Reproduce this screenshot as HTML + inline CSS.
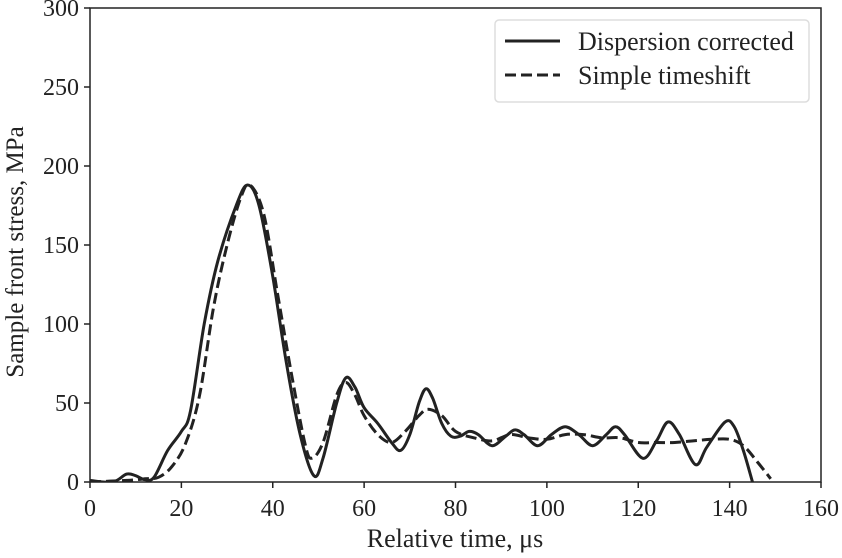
<!DOCTYPE html>
<html><head><meta charset="utf-8"><style>body{margin:0;background:#fff}svg{display:block}text{font-family:"Liberation Serif",serif;fill:#222}</style></head>
<body>
<svg id="chart" width="842" height="558" xmlns="http://www.w3.org/2000/svg"></svg>
<script>
const xTicks=[0,20,40,60,80,100,120,140,160];
const yTicks=[0,50,100,150,200,250,300];
const solidT=[0,5,8,10,12,14,17,20,22,25,28,32,34.5,37,40,43,46,49,51,54,56,58,60,63,66,68,70,72,73.5,75,77,79,81,83,85,88,91,93,95,98,101,104,107,110,113,115,117,121,124,126.5,129,132.5,135,139,141,143,145];
const solidV=[1,0,5,4,1.5,3,20,32,45,100,140,175,188,175,130,75,30,4,15,50,66,60,47,37,25,20,30,50,59,53,37,29,29,32,30,23,29,33,30,23,30,35,30,23,30,35,30,15,26,38,30,11,22,38,35,20,0];
const dashT=[0,8,12,15,18,21,24,27,30,33,35,38,41,44,47,48.5,51,54,56,58,60,63,66,69,72,74,77,80,84,88,92,96,100,104,108,112,116,120,124,128,132,136,140,143,146,149];
const dashV=[0,1,2,3,10,25,55,110,150,180,188,170,120,70,25,15,25,55,63,55,42,30,25,32,42,46,42,32,28,26,30,28,27,30,30,28,28,25,25,25,26,27,27,23,13,2];
const X0=90,X1=821,Y0=482,Y1=8;
const sx=v=>X0+(v-0)/160*(X1-X0), sy=v=>Y0-(v/300)*(Y0-Y1);
const svg=document.getElementById('chart');const NS='http://www.w3.org/2000/svg';
function mk(t,a,p){const e=document.createElementNS(NS,t);for(const k in a)e.setAttribute(k,a[k]);(p||svg).appendChild(e);return e;}
const frame=mk('rect',{x:X0,y:Y1,width:X1-X0,height:Y0-Y1,fill:'none',stroke:'#222','stroke-width':1.5});

xTicks.forEach(v=>{const l=mk('line',{x1:sx(v),x2:sx(v),y1:Y0,y2:Y0+6,stroke:'#222','stroke-width':1.5});

const t=mk('text',{x:sx(v),y:516,'text-anchor':'middle','font-size':24});t.textContent=v;
});
yTicks.forEach(v=>{const l=mk('line',{x1:X0-6,x2:X0,y1:sy(v),y2:sy(v),stroke:'#222','stroke-width':1.5});

const t=mk('text',{x:X0-11,y:sy(v)+8,'text-anchor':'end','font-size':24});t.textContent=v;
});
const xt=mk('text',{x:455,y:547,'text-anchor':'middle','font-size':26});xt.textContent='Relative time, μs';

const yt=mk('text',{transform:'translate(23,252) rotate(-90)','text-anchor':'middle','font-size':25});yt.textContent='Sample front stress, MPa';

function path(T,V){const P=T.map((t,i)=>[sx(t),sy(V[i])]);let d='M'+P[0][0].toFixed(1)+','+P[0][1].toFixed(1);
for(let i=0;i<P.length-1;i++){const p0=P[Math.max(0,i-1)],p1=P[i],p2=P[i+1],p3=P[Math.min(P.length-1,i+2)];
const c1=[p1[0]+(p2[0]-p0[0])/6,p1[1]+(p2[1]-p0[1])/6],c2=[p2[0]-(p3[0]-p1[0])/6,p2[1]-(p3[1]-p1[1])/6];
d+='C'+c1.map(v=>v.toFixed(1))+' '+c2.map(v=>v.toFixed(1))+' '+p2.map(v=>v.toFixed(1));}return d;}
const clip=mk('clipPath',{id:'c'});mk('rect',{x:X0,y:Y1,width:X1-X0,height:Y0-Y1},clip);
const d=mk('path',{d:path(dashT,dashV),fill:'none',stroke:'#222','stroke-width':3,'stroke-dasharray':'11,5','clip-path':'url(#c)','stroke-linejoin':'round'});

const s=mk('path',{d:path(solidT,solidV),fill:'none',stroke:'#222','stroke-width':3,'clip-path':'url(#c)','stroke-linejoin':'round'});

const g=mk('g',{});
mk('rect',{x:495,y:20,width:314,height:82,rx:4,fill:'#fff',stroke:'#ddd','stroke-width':1.5},g);
const l1=mk('line',{x1:505,x2:560,y1:41,y2:41,stroke:'#222','stroke-width':3},g);

const t1=mk('text',{x:578,y:50,'font-size':26},g);t1.textContent='Dispersion corrected';
const l2=mk('line',{x1:505,x2:560,y1:75,y2:75,stroke:'#222','stroke-width':3,'stroke-dasharray':'11,5'},g);

const t2=mk('text',{x:578,y:84,'font-size':26},g);t2.textContent='Simple timeshift';
</script>
</body></html>
